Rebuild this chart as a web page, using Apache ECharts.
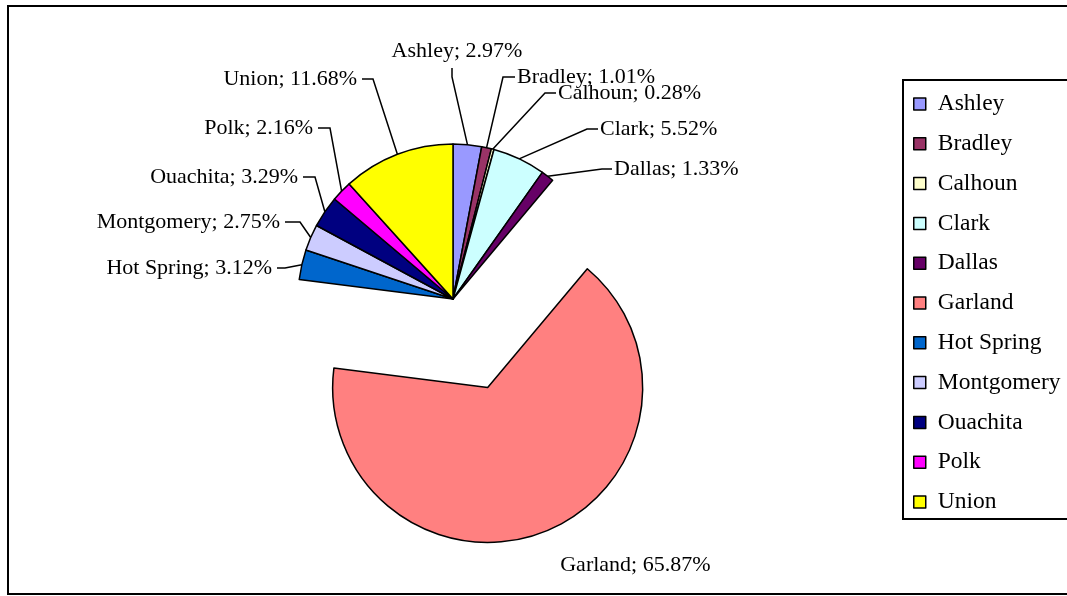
<!DOCTYPE html>
<html>
<head>
<meta charset="utf-8">
<script src="https://cdn.jsdelivr.net/npm/echarts@6/dist/echarts.min.js"></script>
<style>
  html, body { margin: 0; padding: 0; background: #fff; }
  #chart { width: 1067px; height: 596px; }
</style>
</head>
<body>
<div id="chart"></div>
<script>
const counties = ['Ashley', 'Bradley', 'Calhoun', 'Clark', 'Dallas', 'Garland', 'Hot Spring', 'Montgomery', 'Ouachita', 'Polk', 'Union'];
const shares = [2.97, 1.01, 0.28, 5.52, 1.33, 65.87, 3.12, 2.75, 3.29, 2.16, 11.68];
const sliceColors = ['#9999FF', '#993366', '#FFFFCC', '#CCFFFF', '#660066', '#FF8080', '#0066CC', '#CCCCFF', '#000080', '#FF00FF', '#FFFF00'];
const pulledOut = 'Garland';

// where the labels sit (excel placed them by hand): [textX, textY, align, bendX]
// the pulled-out slice keeps its own label (select state wins), see its labelLine below
const labelSpots = [
  [457, 51, 'center', 452],
  [517, 77, 'left', 503],
  [558, 93, 'left', 545],
  [600, 129, 'left', 587],
  [614, 169, 'left', 602],
  [634, 563, 'center', null],
  [272, 268, 'right', 285],
  [280, 222, 'right', 300],
  [298, 177, 'right', 315],
  [313, 128, 'right', 330],
  [357, 79, 'right', 373]
];

const font = "'Liberation Serif', 'Times New Roman', serif";

const chart = echarts.init(document.getElementById('chart'));

chart.setOption({
  animation: false,
  color: sliceColors,
  graphic: [{
    type: 'rect',
    z: -1,
    shape: {x: 8, y: 6, width: 1100, height: 588},
    style: {fill: 'none', stroke: '#000', lineWidth: 2}
  }],
  legend: {
    orient: 'vertical',
    left: 903,
    top: 80,
    padding: [12, 60, 5, 10],
    itemGap: 15.8,
    itemWidth: 12,
    itemHeight: 12,
    icon: 'rect',
    selectedMode: false,
    borderColor: '#000',
    borderWidth: 2,
    itemStyle: {borderColor: '#000', borderWidth: 1.5},
    textStyle: {fontFamily: font, fontSize: 23.5, color: '#000', padding: [0, 0, 0, 7]},
    data: counties
  },
  series: [{
    type: 'pie',
    center: [453, 299],
    radius: 155,
    startAngle: 90,
    clockwise: true,
    selectedMode: 'single',
    selectedOffset: 95,
    avoidLabelOverlap: false,
    emphasis: {disabled: true},
    itemStyle: {borderColor: '#000', borderWidth: 1.5},
    label: {
      show: true,
      position: 'outside',
      fontFamily: font,
      fontSize: 22,
      color: '#000',
      formatter: p => p.name + '; ' + p.value.toFixed(2) + '%'
    },
    labelLine: {show: true, length: 20, length2: 10, lineStyle: {color: '#000', width: 1.5}},
    labelLayout: params => {
      const [tx, ty, align, bendX] = labelSpots[params.dataIndex];
      const out = {x: tx, y: ty, align: align, verticalAlign: 'middle'};
      const pts = params.labelLinePoints;
      if (pts && bendX != null) {
        const edge = pts[0];
        if (align === 'center') {
          out.labelLinePoints = [edge, [bendX, ty + 26], [bendX, ty + 17]];
        } else {
          const endX = align === 'left' ? tx - 2 : tx + 5;
          out.labelLinePoints = [edge, [bendX, ty], [endX, ty]];
        }
      }
      return out;
    },
    data: counties.map((name, i) => ({
      name: name,
      value: shares[i],
      selected: name === pulledOut,
      labelLine: name === pulledOut ? {show: false, length: 36, length2: 73} : {show: true}
    }))
  }]
});
</script>
</body>
</html>
